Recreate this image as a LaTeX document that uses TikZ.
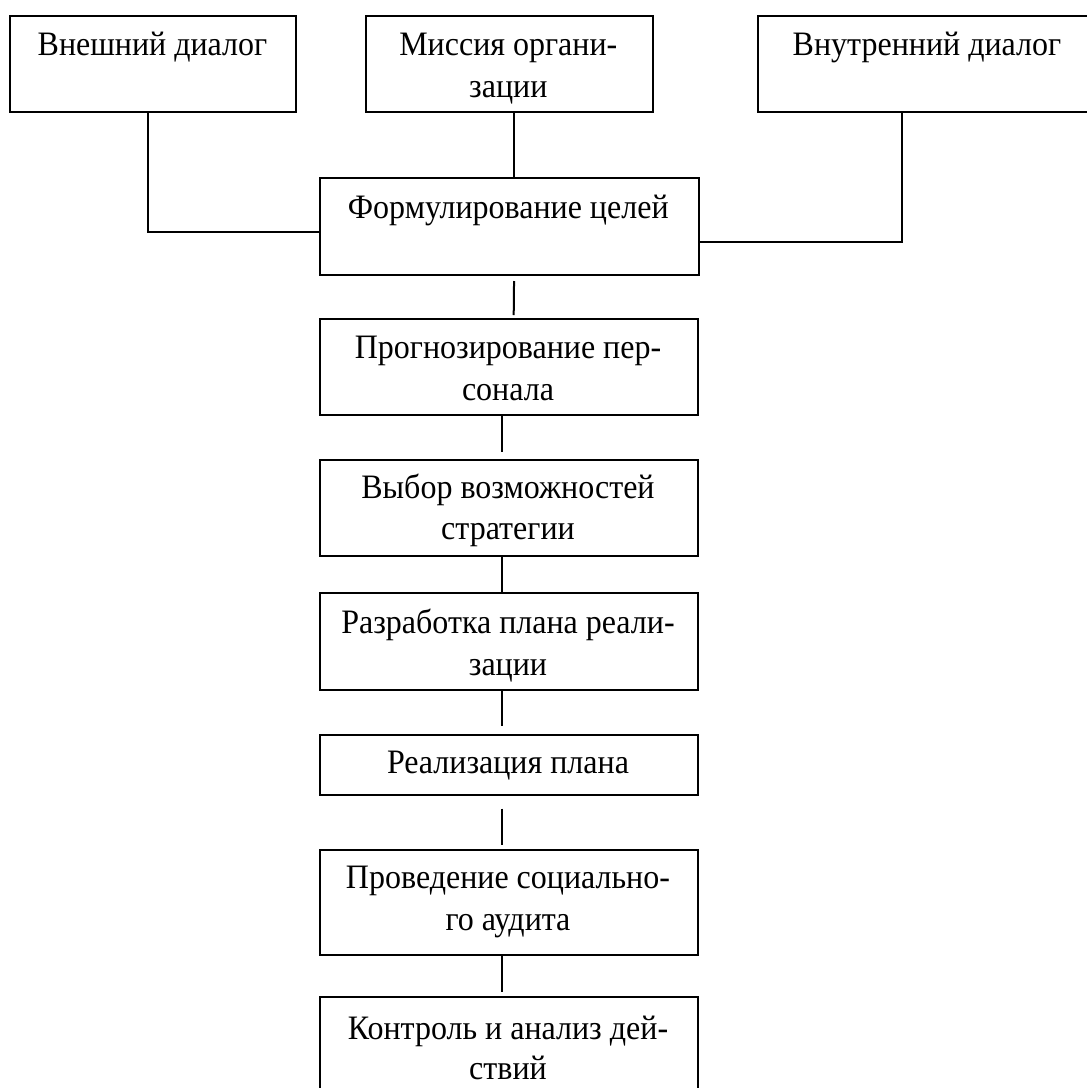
\documentclass[tikz,border=0pt]{standalone}
\usepackage{fontspec}
\setmainfont{Liberation Serif}
\newcommand\vtxt[1]{\scalebox{1}[1.07]{#1}}
\begin{document}
\begin{tikzpicture}[x=1pt,y=-1pt,
  boxst/.style={draw=black, line width=2pt, inner sep=0pt, anchor=north west},
  txt/.style={anchor=base, inner sep=0pt, font=\fontsize{32}{40}\selectfont},
  conn/.style={draw=black, line width=2pt}]
\useasboundingbox (0,0) rectangle (1087,1088);
\clip (0,0) rectangle (1087,1088);
\fill[white] (0,0) rectangle (1087,1088);
% boxes
\node[boxst, minimum width=286.5pt, minimum height=96pt] (b1) at (8.5,15) {};
\node[boxst, minimum width=286.7pt, minimum height=96pt] (b2) at (365,15) {};
\node[boxst, minimum width=340pt, minimum height=96pt] (b3) at (756.7,15) {};
\node[boxst, minimum width=378.7pt, minimum height=97pt] (f) at (319,177) {};
\node[boxst, minimum width=378pt, minimum height=96.3pt] (p) at (319,317.7) {};
\node[boxst, minimum width=378pt, minimum height=96pt] (v) at (319,459) {};
\node[boxst, minimum width=378pt, minimum height=97pt] (r) at (319,592) {};
\node[boxst, minimum width=378pt, minimum height=60pt] (re) at (319,734) {};
\node[boxst, minimum width=378pt, minimum height=105pt] (pr) at (319,849) {};
\node[boxst, minimum width=378pt, minimum height=120pt] (k) at (319,996) {};
% texts
\node[txt] (t1) at (152.5,55.5) {\vtxt{Внешний диалог}};
\node[txt] (t2a) at (508.3,55) {\vtxt{Миссия органи-}};
\node[txt] (t2b) at (508.3,97.5) {\vtxt{зации}};
\node[txt] (t3) at (927,55.5) {\vtxt{Внутренний диалог}};
\node[txt] (tf) at (508.3,218) {\vtxt{Формулирование целей}};
\node[txt] (tpa) at (508,358.3) {\vtxt{Прогнозирование пер-}};
\node[txt] (tpb) at (508,400) {\vtxt{сонала}};
\node[txt] (tva) at (508,498.5) {\vtxt{Выбор возможностей}};
\node[txt] (tvb) at (508,539.5) {\vtxt{стратегии}};
\node[txt] (tra) at (508,633) {\vtxt{Разработка плана реали-}};
\node[txt] (trb) at (508,675) {\vtxt{зации}};
\node[txt] (tre) at (508,773) {\vtxt{Реализация плана}};
\node[txt] (tpra) at (508,888) {\vtxt{Проведение социально-}};
\node[txt] (tprb) at (508,930) {\vtxt{го аудита}};
\node[txt] (tka) at (508,1039.5) {\vtxt{Контроль и анализ дей-}};
\node[txt] (tkb) at (508,1079) {\vtxt{ствий}};
% connectors
\draw[conn] ([xshift=-5pt]b1.south) |- ([yshift=-5.5pt]f.west);
\draw[conn] ([xshift=4.7pt]b2.south) -- ([xshift=4.7pt]f.north);
\draw[conn] ([xshift=-25.7pt]b3.south) |- ([yshift=-15.2pt]f.east);
\draw[conn] ([xshift=4.7pt,yshift=-5pt]f.south) -- ([xshift=4.7pt,yshift=2.7pt]p.north);
\draw[conn] ([xshift=-7pt]p.south) -- ([xshift=-7pt,yshift=7.3pt]v.north);
\draw[conn] ([xshift=-7pt]v.south) -- ([xshift=-7pt]r.north);
\draw[conn] ([xshift=-7pt]r.south) -- ([xshift=-7pt,yshift=8.3pt]re.north);
\draw[conn] ([xshift=-7pt,yshift=-12.7pt]re.south) -- ([xshift=-7pt,yshift=4pt]pr.north);
\draw[conn] ([xshift=-7pt]pr.south) -- ([xshift=-7pt,yshift=4pt]k.north);
\end{tikzpicture}
\end{document}
